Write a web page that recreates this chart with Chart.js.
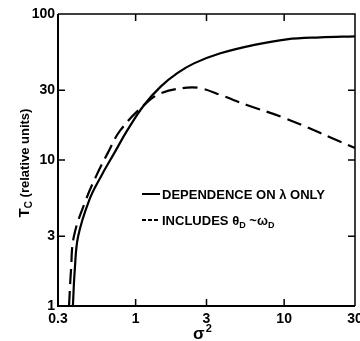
<!DOCTYPE html>
<html>
<head>
<meta charset="utf-8">
<script src="https://cdn.jsdelivr.net/npm/chart.js@4.4.1/dist/chart.umd.min.js"></script>
<style>
  html, body { margin: 0; padding: 0; background: #fff; }
  #wrap { width: 360px; height: 341px; position: relative; }
</style>
</head>
<body>
<div id="wrap"><canvas id="tcChart"></canvas></div>
<script>
// x = sigma^2, y = Tc (relative units), both
const xTicks = [0.3, 1, 3, 10, 30];
const xTickLabels = ['0.3', '1', '3', '10', '30'];
const yTicks = [1, 3, 10, 30, 100];
const yTickLabels = ['1', '3', '10', '30', '100'];

// solid: dependence on lambda only
const sigmaSolid = [0.378, 0.389, 0.41, 0.487, 0.583, 0.716, 0.88, 1.14, 1.474, 1.908, 2.47, 3.72, 6.23, 10.4, 17.5, 30];
const tcSolid    = [1,     1.76,  3,    5.32,  7.69,  11.1,  16.0, 23.8, 31.8,  39.3,  45.9, 53.8, 61.3, 67.1, 69.2, 70.2];

// dashed: includes theta_D ~ omega_D
const sigmaDashed = [0.356, 0.367, 0.384, 0.462, 0.54, 0.647, 0.79, 1.14, 1.474, 2.22, 2.73, 3.72, 5.6, 9.9, 30];
const tcDashed    = [1,     1.76,  3,     5.32,  7.69, 11.1,  16.0, 23.8, 28.6,  31.3, 31.0, 27.9, 23.8, 19.5, 12.1];

const toPoints = (xs, ys) => xs.map((x, i) => ({ x: x, y: ys[i] }));

const FONT = '"Liberation Sans", Arial, sans-serif';

// frame, inward ticks, axis titles and the in-plot legend
const decorPlugin = {
    id: 'decor',
    afterDraw(chart) {
        const ctx = chart.ctx;
        const ca = chart.chartArea;
        const sx = chart.scales.x, sy = chart.scales.y;
        ctx.save();
        ctx.strokeStyle = '#000';
        ctx.fillStyle = '#000';

        // box
        ctx.lineWidth = 2;
        ctx.beginPath();
        ctx.moveTo(ca.left, ca.top);
        ctx.lineTo(ca.left, ca.bottom);
        ctx.lineTo(ca.right, ca.bottom);
        ctx.stroke();
        ctx.lineWidth = 1.5;
        ctx.beginPath();
        ctx.moveTo(ca.left, ca.top);
        ctx.lineTo(ca.right, ca.top);
        ctx.lineTo(ca.right, ca.bottom);
        ctx.stroke();

        // inward ticks on all four sides
        const tl = 7;
        ctx.lineWidth = 1.5;
        ctx.beginPath();
        xTicks.slice(1, -1).forEach(v => {
            const px = sx.getPixelForValue(v);
            ctx.moveTo(px, ca.bottom); ctx.lineTo(px, ca.bottom - tl);
            ctx.moveTo(px, ca.top);    ctx.lineTo(px, ca.top + tl);
        });
        yTicks.slice(1, -1).forEach(v => {
            const py = sy.getPixelForValue(v);
            ctx.moveTo(ca.left, py);  ctx.lineTo(ca.left + tl, py);
            ctx.moveTo(ca.right, py); ctx.lineTo(ca.right - tl, py);
        });
        ctx.stroke();

        // y title: T_C (relative units)
        ctx.save();
        ctx.translate(29, 163);
        ctx.rotate(-Math.PI / 2);
        ctx.textBaseline = 'alphabetic';
        ctx.textAlign = 'left';
        const fT = 'bold 15px ' + FONT, fC = 'bold 10px ' + FONT, fR = 'bold 13px ' + FONT;
        ctx.font = fT; const wT = ctx.measureText('T').width;
        ctx.font = fC; const wC = ctx.measureText('C').width;
        ctx.font = fR; const wR = ctx.measureText(' (relative units)').width;
        let x0 = -(wT + wC + wR) / 2;
        ctx.font = fT; ctx.fillText('T', x0, 0); x0 += wT;
        ctx.font = fC; ctx.fillText('C', x0, 3); x0 += wC;
        ctx.font = fR; ctx.fillText(' (relative units)', x0, 0);
        ctx.restore();

        // x title: sigma^2
        ctx.textAlign = 'left';
        ctx.textBaseline = 'alphabetic';
        ctx.font = 'bold 17px ' + FONT;
        const wS = ctx.measureText('σ').width;
        ctx.fillText('σ', 193, 339);
        ctx.font = 'bold 11px ' + FONT;
        ctx.fillText('2', 193 + wS + 1, 332);

        // legend
        ctx.lineWidth = 2;
        ctx.beginPath();
        ctx.moveTo(142, 194); ctx.lineTo(160, 194);
        ctx.stroke();
        ctx.setLineDash([4, 2]);
        ctx.beginPath();
        ctx.moveTo(142, 220); ctx.lineTo(160, 220);
        ctx.stroke();
        ctx.setLineDash([]);

        const fL = 'bold 13px ' + FONT, fSub = 'bold 9px ' + FONT;
        ctx.font = fL;
        const t1 = 'DEPENDENCE ON λ ONLY';
        const k = 163 / ctx.measureText(t1).width;
        ctx.save();
        ctx.translate(162, 199);
        ctx.scale(k, 1);
        ctx.fillText(t1, 0, 0);
        ctx.restore();

        const parts = [
            ['INCLUDES ', fL, 0], ['θ', fL, 0], ['D', fSub, 3],
            [' ~', fL, 0], ['ω', fL, 0], ['D', fSub, 3]
        ];
        ctx.save();
        ctx.translate(162, 225);
        ctx.scale(k, 1);
        let px = 0;
        parts.forEach(p => {
            ctx.font = p[1];
            ctx.fillText(p[0], px, p[2]);
            px += ctx.measureText(p[0]).width;
        });
        ctx.restore();

        ctx.restore();
    }
};

const tickFont = { family: FONT, size: 14, weight: 'bold' };
const noGrid = { display: false, drawTicks: false, tickLength: 0 };

new Chart(document.getElementById('tcChart'), {
    type: 'scatter',
    data: {
        datasets: [
            {
                label: 'DEPENDENCE ON λ ONLY',
                data: toPoints(sigmaSolid, tcSolid),
                showLine: true,
                borderColor: '#000',
                borderWidth: 2.2,
                pointRadius: 0,
                tension: 0.4
            },
            {
                label: 'INCLUDES θD ~ ωD',
                data: toPoints(sigmaDashed, tcDashed),
                showLine: true,
                borderColor: '#000',
                borderWidth: 2.2,
                borderDash: [15, 7],
                pointRadius: 0,
                tension: 0.4
            }
        ]
    },
    options: {
        responsive: true,
        maintainAspectRatio: false,
        animation: false,
        layout: { padding: { top: 14, right: 5, left: 0, bottom: 0 } },
        plugins: { legend: { display: false }, tooltip: { enabled: false } },
        scales: {
            x: {
                type: 'logarithmic',
                min: 0.3,
                max: 30,
                grid: noGrid,
                border: { display: false },
                afterBuildTicks: (s) => { s.ticks = xTicks.map(v => ({ value: v })); },
                afterFit: (s) => { s.height = 35; s.paddingLeft = 0; s.paddingRight = 0; },
                ticks: {
                    color: '#000',
                    font: tickFont,
                    padding: 5,
                    maxRotation: 0,
                    autoSkip: false,
                    callback: (v) => xTickLabels[xTicks.indexOf(v)]
                }
            },
            y: {
                type: 'logarithmic',
                min: 1,
                max: 100,
                grid: noGrid,
                border: { display: false },
                afterBuildTicks: (s) => { s.ticks = yTicks.map(v => ({ value: v })); },
                afterFit: (s) => { s.width = 58; s.paddingTop = 0; s.paddingBottom = 0; },
                ticks: {
                    color: '#000',
                    font: tickFont,
                    padding: 3,
                    autoSkip: false,
                    callback: (v) => yTickLabels[yTicks.indexOf(v)]
                }
            }
        }
    },
    plugins: [decorPlugin]
});
</script>
</body>
</html>
